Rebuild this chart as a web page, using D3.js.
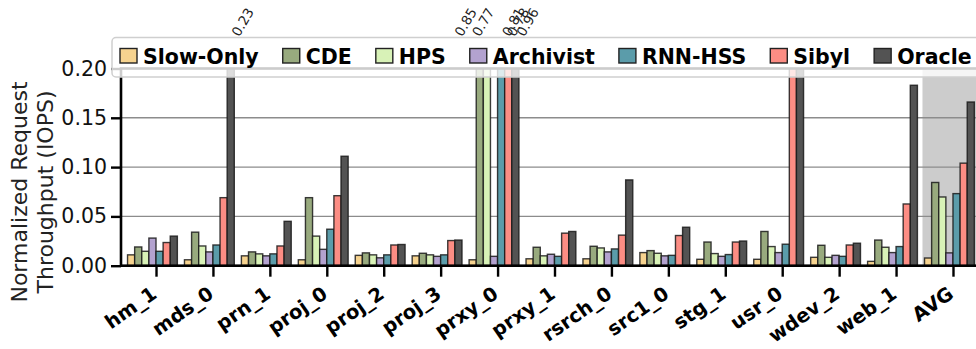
<!DOCTYPE html>
<html>
<head>
<meta charset="utf-8">
<script src="https://cdn.jsdelivr.net/npm/d3@7"></script>
<style>
  html, body { margin: 0; padding: 0; background: #fff; }
  svg { display: block; font-family: "DejaVu Sans", sans-serif; }
</style>
</head>
<body>
<svg id="chart" width="976" height="349"></svg>
<script>
// Workloads along the x axis
const categories = ["hm_1", "mds_0", "prn_1", "proj_0", "proj_2", "proj_3", "prxy_0",
  "prxy_1", "rsrch_0", "src1_0", "stg_1", "usr_0", "wdev_2", "web_1", "AVG"];

// Policies shown in each group
const seriesNames = ["Slow-Only", "CDE", "HPS", "Archivist", "RNN-HSS", "Sibyl", "Oracle"];

// Normalized request throughput (IOPS) per policy
const slowOnly  = [0.011, 0.006, 0.010, 0.006, 0.0105, 0.010, 0.006, 0.007, 0.007, 0.0133, 0.0065, 0.0065, 0.0085, 0.0044, 0.0078];
const cde       = [0.019, 0.034, 0.014, 0.069, 0.013, 0.0126, 0.85, 0.0187, 0.0197, 0.0153, 0.024, 0.0347, 0.0207, 0.026, 0.0844];
const hps       = [0.0146, 0.020, 0.012, 0.030, 0.011, 0.011, 0.77, 0.010, 0.018, 0.0126, 0.0123, 0.0194, 0.0085, 0.0187, 0.0697];
const archivist = [0.028, 0.014, 0.010, 0.0166, 0.008, 0.0095, 0.0095, 0.0116, 0.014, 0.010, 0.0095, 0.0133, 0.0105, 0.0133, 0.013];
const rnnHss    = [0.0146, 0.021, 0.012, 0.037, 0.011, 0.011, 0.81, 0.0095, 0.017, 0.0105, 0.0113, 0.0218, 0.0095, 0.0194, 0.0731];
const sibyl     = [0.0235, 0.069, 0.020, 0.071, 0.021, 0.0255, 0.78, 0.033, 0.031, 0.0306, 0.024, 0.22, 0.021, 0.0626, 0.104];
const oracle    = [0.030, 0.23, 0.045, 0.111, 0.0215, 0.026, 0.96, 0.0347, 0.087, 0.039, 0.025, 0.51, 0.0228, 0.183, 0.166];

// Y axis tick values
const yTicks = [0.00, 0.05, 0.10, 0.15, 0.20];

// Off-scale bars that carry a value annotation: [category, series]
const annotated = [["mds_0", "Oracle"], ["prxy_0", "CDE"], ["prxy_0", "HPS"],
  ["prxy_0", "RNN-HSS"], ["prxy_0", "Sibyl"], ["prxy_0", "Oracle"]];

const seriesValues = [slowOnly, cde, hps, archivist, rnnHss, sibyl, oracle];
const colors = ["#f6d38f", "#98aa7e", "#d8f2b7", "#b3a2cf", "#5b9caa", "#fc8d84", "#535353"];

const svg = d3.select("#chart");
const plotTop = 68.5, plotBottom = 265.7, plotLeft = 121, plotRight = 988;

const x = d3.scaleLinear().domain([-0.615, categories.length - 1 + 0.615]).range([plotLeft, plotRight]);
const y = d3.scaleLinear().domain([0, 0.2]).range([plotBottom, plotTop]);
const barStep = 0.125;             // bar width in category units
const barW = x(barStep) - x(0);

// Shaded band behind the average group
const shadeX = x(categories.length - 1 - 0.536);
svg.append("rect")
  .attr("x", shadeX).attr("y", plotTop)
  .attr("width", plotRight - shadeX).attr("height", plotBottom - plotTop)
  .attr("fill", "#cccccc");

// Horizontal grid
svg.append("g").selectAll("line").data(yTicks.filter(d => d > 0)).join("line")
  .attr("x1", plotLeft).attr("x2", plotRight)
  .attr("y1", d => y(d)).attr("y2", d => y(d))
  .attr("stroke", "#8c8c8c").attr("stroke-width", 1.4);

// Bars, clipped to the plotting area
svg.append("clipPath").attr("id", "plotClip")
  .append("rect").attr("x", plotLeft).attr("y", plotTop)
  .attr("width", plotRight - plotLeft).attr("height", plotBottom - plotTop);

const rows = [];
seriesValues.forEach((vals, j) => vals.forEach((v, i) => rows.push({ i, j, v })));

svg.append("g").attr("clip-path", "url(#plotClip)")
  .selectAll("rect").data(rows).join("rect")
  .attr("x", d => x(d.i + (d.j - 3.5) * barStep) - barW / 2)
  .attr("y", d => y(d.v))
  .attr("width", barW)
  .attr("height", d => plotBottom - y(d.v))
  .attr("fill", d => colors[d.j])
  .attr("stroke", "#1a1a1a").attr("stroke-opacity", 0.85).attr("stroke-width", 1.4);

// Axes
const yAxis = d3.axisLeft(y).tickValues(yTicks).tickFormat(d3.format(".2f")).tickSize(10).tickPadding(4);
const gy = svg.append("g").attr("transform", `translate(${plotLeft},0)`).call(yAxis);
gy.select(".domain").remove();
gy.selectAll(".tick line").attr("stroke", "#000").attr("stroke-width", 2.4);
gy.selectAll(".tick text").attr("font-size", 20.5).attr("fill", "#111")
  .attr("font-family", "DejaVu Sans");

const xAxis = d3.axisBottom(x).tickValues(d3.range(categories.length))
  .tickFormat(i => categories[i]).tickSize(11).tickPadding(0);
const gx = svg.append("g").attr("transform", `translate(0,${plotBottom})`).call(xAxis);
gx.select(".domain").remove();
gx.selectAll(".tick line").attr("stroke", "#000").attr("stroke-width", 2.4);
gx.selectAll(".tick text")
  .attr("font-size", 19.5).attr("font-weight", "bold").attr("fill", "#000")
  .attr("font-family", "DejaVu Sans")
  .attr("text-anchor", "end").attr("dy", null)
  .attr("x", 1.5).attr("y", 31)
  .attr("transform", "rotate(-35, 1.5, 31)");

// Spines
svg.append("rect").attr("x", plotLeft).attr("y", plotTop)
  .attr("width", plotRight - plotLeft).attr("height", plotBottom - plotTop)
  .attr("fill", "none").attr("stroke", "#000").attr("stroke-width", 2.6);

// Axis title
const yTitle = ["Normalized Request", "Throughput (IOPS)"];
svg.append("g").selectAll("text").data(yTitle).join("text")
  .attr("x", (d, k) => 27 + k * 26).attr("y", 192)
  .attr("transform", (d, k) => `rotate(-90, ${27 + k * 26}, 192)`)
  .attr("text-anchor", "middle")
  .attr("font-size", 22).attr("fill", "#222")
  .text(d => d);

// Legend
const lg = svg.append("g");
lg.append("rect").attr("x", 112).attr("y", 37.5).attr("width", 880).attr("height", 39.5).attr("rx", 4)
  .attr("fill", "#fff").attr("fill-opacity", 0.8).attr("stroke", "#cfcfcf").attr("stroke-width", 1.5);
let lx = 120;
seriesNames.forEach((name, j) => {
  lg.append("rect").attr("x", lx).attr("y", 48.5).attr("width", 17).attr("height", 14.5)
    .attr("fill", colors[j]).attr("stroke", "#222").attr("stroke-width", 1.4);
  const t = lg.append("text").attr("x", lx + 23).attr("y", 63.5)
    .attr("font-size", 20.5).attr("font-weight", "bold").attr("fill", "#000").text(name);
  lx = lx + 23 + t.node().getComputedTextLength() + 24;
});

// Value annotations for bars that run past the top of the axis
const nudges = [8.6, -17.5, -7.2, 8.6, 6.5, 8.9];
const annX = (d, k) => x(categories.indexOf(d[0]) + (seriesNames.indexOf(d[1]) - 3.5) * barStep) + nudges[k];
const annY = y(0.2) - 31;
svg.append("g").selectAll("text").data(annotated).join("text")
  .attr("x", annX).attr("y", annY)
  .attr("transform", (d, k) => `rotate(-60, ${annX(d, k)}, ${annY})`)
  .attr("font-size", 13.5).attr("fill", "#222")
  .text(d => d3.format(".2f")(seriesValues[seriesNames.indexOf(d[1])][categories.indexOf(d[0])]));
</script>
</body>
</html>
